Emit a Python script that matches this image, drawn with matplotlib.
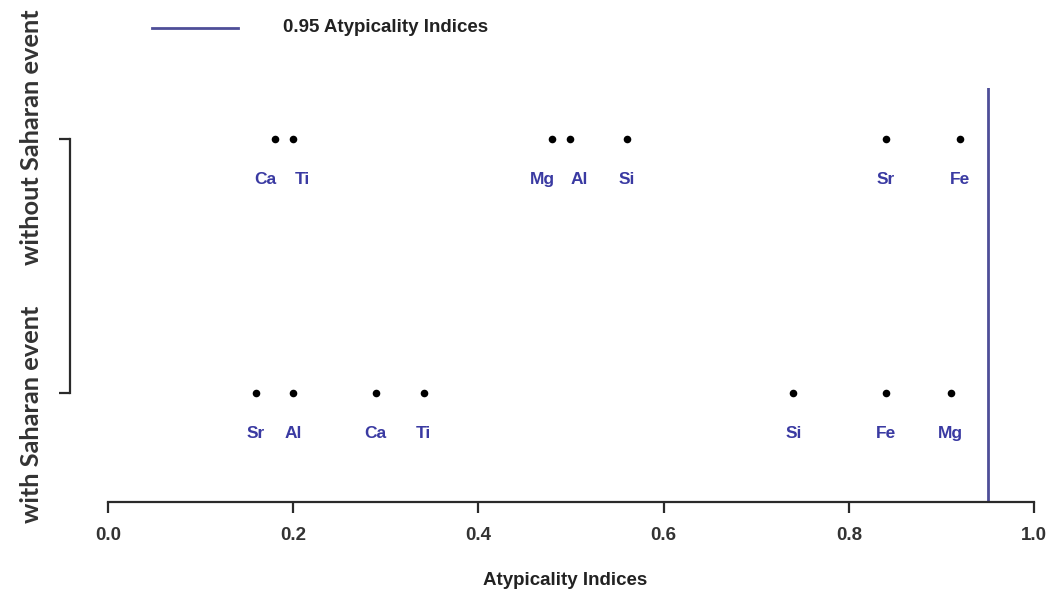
import matplotlib
matplotlib.use("Agg")
import matplotlib.pyplot as plt
from matplotlib import font_manager as fm

# ---- data ----
groups = ["with Saharan event", "without Saharan event"]
group_y = [1, 2]
without_elements = ["Ca", "Ti", "Mg", "Al", "Si", "Sr", "Fe"]
without_values = [0.180, 0.200, 0.479, 0.499, 0.560, 0.840, 0.920]
with_elements = ["Sr", "Al", "Ca", "Ti", "Si", "Fe", "Mg"]
with_values = [0.160, 0.200, 0.289, 0.341, 0.740, 0.840, 0.910]
threshold = 0.95
x_ticks = [0.0, 0.2, 0.4, 0.6, 0.8, 1.0]
x_label = "Atypicality Indices"
legend_label = "0.95 Atypicality Indices"

names = {f.name for f in fm.fontManager.ttflist}


def pick(*cands):
    for c in cands:
        if c in names:
            return c
    return "DejaVu Sans"


arial = pick("Liberation Sans", "Arimo", "DejaVu Sans")
ylab_font = pick("Lato", "Open Sans", "DejaVu Sans")

W, H = 1061, 590
fig = plt.figure(figsize=(W / 100, H / 100), dpi=100)
# axes in pixel coordinates: left 70, right 1061, bottom 502, top 88
ax = fig.add_axes([70 / W, (H - 502) / H, (1061 - 70) / W, (502 - 88) / H])

xlo, xhi = -0.041, 1.029
ax.set_xlim(xlo, xhi)
ylo = 1 - (502 - 393) / 254
yhi = 2 + (139 - 88) / 254
ax.set_ylim(ylo, yhi)

label_color = "#3a3aa2"
for yv, elems, vals in [(2, without_elements, without_values), (1, with_elements, with_values)]:
    ax.scatter(vals, [yv] * len(vals), s=30, color="black", zorder=3, linewidths=0)
    for i, (e, v) in enumerate(zip(elems, vals)):
        dx = 0.0
        if i + 1 < len(vals) and vals[i + 1] - v < 0.03:
            dx = -6.5
        if i > 0 and v - vals[i - 1] < 0.03:
            dx = 6.5
        ax.annotate(e, (v, yv), xytext=(dx, -29.5), textcoords="offset points",
                    ha="center", va="center", color=label_color, fontsize=12.5,
                    fontweight="bold", family=arial)

line_color = "#4e4e98"
ax.axvline(threshold, color=line_color, lw=2.0, zorder=2)

for s in ["top", "right"]:
    ax.spines[s].set_visible(False)
ax.spines["bottom"].set_bounds(0, 1)
ax.spines["left"].set_bounds(1, 2)
for s in ["bottom", "left"]:
    ax.spines[s].set_linewidth(1.6)
    ax.spines[s].set_color("#2a2a2a")

ax.set_xticks(x_ticks)
ax.set_xticklabels([f"{t:.1f}" for t in x_ticks], family=arial, fontweight="bold",
                   fontsize=13.5, color="#333333")
ax.tick_params(axis="x", length=8, width=1.6, color="#2a2a2a", pad=10)
ax.set_yticks(group_y)
ax.set_yticklabels([])
ax.tick_params(axis="y", length=8, width=1.6, color="#2a2a2a")

# group labels (rotated), offsets from the tick positions in points
y_offsets = [-15, 1.0]
for g, yv, dy in zip(groups, group_y, y_offsets):
    ax.annotate(g, (0, yv), xycoords=("axes fraction", "data"), xytext=(-28.0, dy),
                textcoords="offset points", rotation=90, ha="center", va="center",
                family=ylab_font, fontweight="bold", fontsize=18.3, color="#333333")

ax.set_xlabel(x_label, family=arial, fontweight="bold", fontsize=13.5, labelpad=20,
              color="#222222")

# legend (drawn in figure pixel coordinates)
fig.add_artist(plt.Line2D([152 / W, 238 / W], [(H - 28) / H] * 2, color=line_color, lw=2.0))
fig.text(283 / W, (H - 28) / H, legend_label, ha="left", va="center", fontsize=13.5,
         fontweight="bold", family=arial, color="#222222")

fig.savefig("out.png", dpi=100)
